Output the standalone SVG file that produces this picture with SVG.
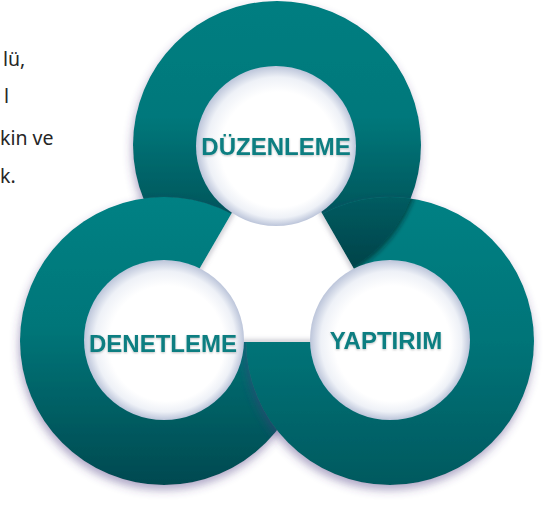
<svg xmlns="http://www.w3.org/2000/svg" width="551" height="514" viewBox="0 0 551 514">
  <style>
    .para { font-family: "Noto Sans", "Open Sans", sans-serif; font-size: 19.5px; fill: #262626; }
    .lbl { font-family: "Liberation Sans", Arial, sans-serif; font-weight: bold; font-size: 24px; fill: #0a7e81; text-anchor: middle; }
  </style>
  <defs>
    <linearGradient id="gTop" gradientUnits="userSpaceOnUse" x1="0" y1="2" x2="0" y2="290">
      <stop offset="0" stop-color="#007e81"/>
      <stop offset="0.4" stop-color="#00787b"/>
      <stop offset="1" stop-color="#023b42"/>
    </linearGradient>
    <linearGradient id="gLeft" gradientUnits="userSpaceOnUse" x1="0" y1="197" x2="0" y2="485">
      <stop offset="0" stop-color="#008184"/>
      <stop offset="0.45" stop-color="#007679"/>
      <stop offset="1" stop-color="#004950"/>
    </linearGradient>
    <linearGradient id="gRight" gradientUnits="userSpaceOnUse" x1="0" y1="197" x2="0" y2="485">
      <stop offset="0" stop-color="#008184"/>
      <stop offset="0.5" stop-color="#007478"/>
      <stop offset="1" stop-color="#00595f"/>
    </linearGradient>
    <radialGradient id="gWhite" cx="0.5" cy="0.5" r="0.5" fx="0.56" fy="0.58">
      <stop offset="0" stop-color="#ffffff"/>
      <stop offset="0.72" stop-color="#ffffff"/>
      <stop offset="0.88" stop-color="#eef1f7"/>
      <stop offset="1" stop-color="#bcc5da"/>
    </radialGradient>
    <filter id="ringShadow" x="-20%" y="-20%" width="140%" height="145%">
      <feGaussianBlur in="SourceAlpha" stdDeviation="5"/>
      <feOffset dx="-1" dy="5" result="b"/>
      <feFlood flood-color="#4a3a80" flood-opacity="0.45"/>
      <feComposite in2="b" operator="in"/>
      <feMerge><feMergeNode/><feMergeNode in="SourceGraphic"/></feMerge>
    </filter>
    <filter id="edgeShadow" x="-20%" y="-20%" width="140%" height="140%">
      <feGaussianBlur in="SourceAlpha" stdDeviation="2"/>
      <feOffset dx="2" dy="3" result="b"/>
      <feFlood flood-color="#001a1e" flood-opacity="0.5"/>
      <feComposite in2="b" operator="in"/>
      <feMerge><feMergeNode/><feMergeNode in="SourceGraphic"/></feMerge>
    </filter>
    <filter id="blur2" x="-10%" y="-10%" width="120%" height="120%">
      <feGaussianBlur stdDeviation="2.5"/>
    </filter>
    <filter id="txtShadow" x="-10%" y="-30%" width="120%" height="160%">
      <feGaussianBlur in="SourceAlpha" stdDeviation="1.2"/>
      <feOffset dx="0" dy="1" result="b"/>
      <feFlood flood-color="#000000" flood-opacity="0.25"/>
      <feComposite in2="b" operator="in"/>
      <feMerge><feMergeNode/><feMergeNode in="SourceGraphic"/></feMerge>
    </filter>
    <clipPath id="clipRightDisk">
      <circle cx="390" cy="341" r="144"/>
    </clipPath>
    <clipPath id="clipTri">
      <polygon points="277,135 157,342 396,342"/>
    </clipPath>
  </defs>

  <g id="paragraph">
    <text class="para" x="3" y="66">lü,</text>
    <text class="para" x="4" y="103">l</text>
    <text class="para" x="0" y="145">kin ve</text>
    <text class="para" x="0" y="183">k.</text>
  </g>

  <g id="ring-duzenleme">
    <circle cx="277" cy="145" r="144" fill="url(#gTop)" filter="url(#ringShadow)"/>
  </g>
  <g id="ring-denetleme">
    <circle cx="164" cy="341" r="144" fill="url(#gLeft)" filter="url(#ringShadow)"/>
  </g>
  <g id="ring-yaptirim">
    <circle cx="390" cy="341" r="144" fill="url(#gRight)" filter="url(#ringShadow)"/>
  </g>
  <g id="ring-duzenleme-overlap">
    <g clip-path="url(#clipRightDisk)">
      <circle cx="277" cy="145" r="144" fill="url(#gTop)" filter="url(#edgeShadow)"/>
    </g>
  </g>

  <g id="center-triangle">
    <polygon points="277,135 157,342 396,342" fill="#ffffff"/>
    <g clip-path="url(#clipTri)">
      <polygon points="277,135 157,342 396,342" fill="none" stroke="#6e6a80" stroke-opacity="0.45" stroke-width="4" filter="url(#blur2)"/>
    </g>
  </g>

  <g id="node-duzenleme">
    <circle cx="276" cy="146" r="80" fill="url(#gWhite)"/>
    <text class="lbl" x="276" y="155" filter="url(#txtShadow)">DÜZENLEME</text>
  </g>
  <g id="node-denetleme">
    <circle cx="164" cy="340" r="80" fill="url(#gWhite)"/>
    <text class="lbl" x="163" y="352" filter="url(#txtShadow)">DENETLEME</text>
  </g>
  <g id="node-yaptirim">
    <circle cx="390" cy="340" r="80" fill="url(#gWhite)"/>
    <text class="lbl" x="386" y="349" filter="url(#txtShadow)">YAPTIRIM</text>
  </g>
</svg>
